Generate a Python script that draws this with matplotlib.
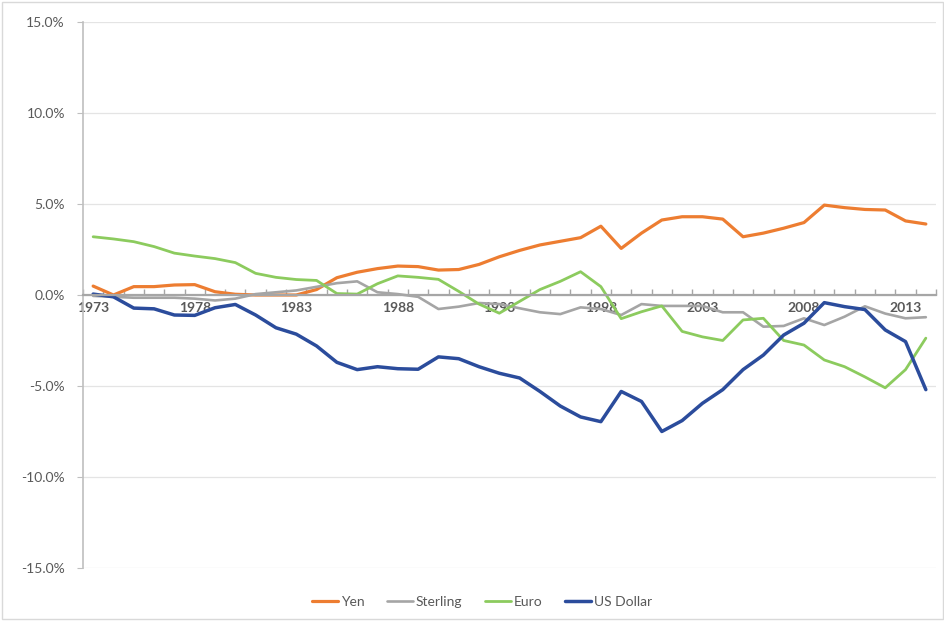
import numpy as np
import matplotlib
matplotlib.use("Agg")
import matplotlib.pyplot as plt
from matplotlib.patches import Rectangle

plt.rcParams["font.family"] = ["Lato", "DejaVu Sans"]

years = list(range(1973, 2015))

yen = [0.49, 0.0, 0.46, 0.46, 0.55, 0.57, 0.18, 0.04, 0.0, 0.0,
       0.0, 0.3, 0.95, 1.25, 1.45, 1.59, 1.56, 1.37, 1.4, 1.68,
       2.1, 2.45, 2.75, 2.95, 3.15, 3.78, 2.56, 3.4, 4.12, 4.3,
       4.3, 4.17, 3.2, 3.4, 3.67, 3.98, 4.94, 4.8, 4.7, 4.67,
       4.07, 3.9]

sterling = [-0.05, -0.1, -0.15, -0.15, -0.15, -0.2, -0.3, -0.2, 0.05, 0.15,
            0.25, 0.45, 0.65, 0.75, 0.15, 0.05, -0.1, -0.77, -0.64, -0.44,
            -0.5, -0.73, -0.95, -1.05, -0.68, -0.77, -1.1, -0.5, -0.6, -0.6,
            -0.6, -0.95, -0.95, -1.74, -1.7, -1.28, -1.65, -1.19, -0.62, -1.02,
            -1.28, -1.22]

euro = [3.2, 3.08, 2.93, 2.66, 2.3, 2.14, 2.0, 1.78, 1.19, 0.97,
        0.85, 0.8, 0.08, 0.05, 0.62, 1.05, 0.97, 0.86, 0.2, -0.5,
        -1.0, -0.35, 0.3, 0.75, 1.28, 0.46, -1.3, -0.92, -0.6, -2.0,
        -2.3, -2.5, -1.37, -1.28, -2.5, -2.75, -3.57, -3.94, -4.5, -5.1,
        -4.1, -2.37]

usd = [0.05, -0.1, -0.72, -0.76, -1.1, -1.12, -0.7, -0.52, -1.1, -1.8,
       -2.15, -2.8, -3.7, -4.1, -3.94, -4.05, -4.08, -3.4, -3.5, -3.94,
       -4.3, -4.56, -5.3, -6.1, -6.7, -6.96, -5.3, -5.85, -7.5, -6.9,
       -5.95, -5.2, -4.1, -3.3, -2.2, -1.55, -0.42, -0.64, -0.8, -1.92,
       -2.56, -5.2]

series_names = ["Yen", "Sterling", "Euro", "US Dollar"]
series_colors = ["#ED7D31", "#A5A5A5", "#8CCB5E", "#2B4C9C"]
series_widths = [2.3, 1.9, 2.0, 2.5]

y_ticks = [-15, -10, -5, 0, 5, 10, 15]
label_years = [1973, 1978, 1983, 1988, 1993, 1998, 2003, 2008, 2013]

fig = plt.figure(figsize=(9.45, 6.21), dpi=100)
ax = fig.add_axes([83/945, 1 - 568/621, (936-83)/945, (568-22)/621])

for data, name, col, lw in zip([yen, sterling, euro, usd], series_names,
                                series_colors, series_widths):
    ax.plot(years, data, color=col, lw=lw, label=name,
            solid_joinstyle="round", solid_capstyle="round")

ax.set_xlim(1972.5, 2014.5)
ax.set_ylim(-15, 15)

# y axis
ax.set_yticks(y_ticks)
ax.set_yticklabels([f"{v:.1f}%" for v in y_ticks])
ax.yaxis.grid(True, color="#E4E4E4", lw=0.9)
ax.set_axisbelow(True)
ax.tick_params(axis="y", direction="out", length=4, color="#BFBFBF",
               labelcolor="#595959", labelsize=10, pad=9)

# x axis at zero
ax.spines["bottom"].set_position(("data", 0))
ax.spines["bottom"].set_color("#A6A6A6")
ax.spines["bottom"].set_linewidth(1.6)
ax.spines["left"].set_color("#BFBFBF")
ax.spines["left"].set_linewidth(1.2)
ax.spines["top"].set_visible(False)
ax.spines["right"].set_visible(False)

ax.set_xticks(np.arange(1972.5, 2015, 1.0))
ax.set_xticklabels([])
ax.tick_params(axis="x", which="major", direction="in", length=4,
               color="#A6A6A6", width=1.0)
ax.set_xticks(label_years, minor=True)
ax.set_xticklabels([str(y) for y in label_years], minor=True)
ax.tick_params(axis="x", which="minor", length=0, labelcolor="#595959",
               labelsize=10, pad=5)
for t in ax.get_xticklabels(minor=True):
    t.set_fontweight("bold")

leg = fig.legend(loc="center", bbox_to_anchor=(482/945, 1 - 602/621), ncol=4,
                 frameon=False, fontsize=10, handlelength=1.9,
                 handletextpad=0.2, columnspacing=1.6)
for txt in leg.get_texts():
    txt.set_color("#595959")

fig.patches.append(Rectangle((0.002, 0.003), 0.996, 0.994,
                             transform=fig.transFigure, fill=False,
                             edgecolor="#D9D9D9", lw=1.0))

fig.savefig("out.png", dpi=100)
